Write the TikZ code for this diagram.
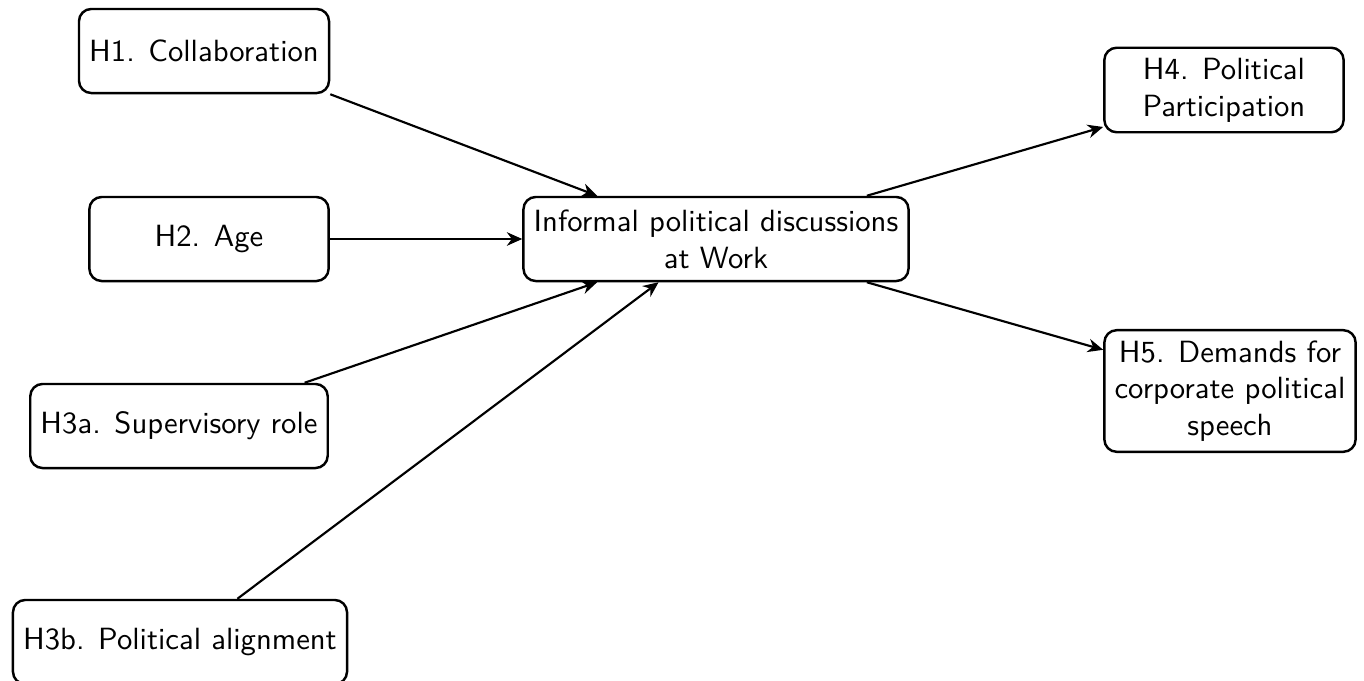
\documentclass[tikz,border=0pt]{standalone}
\usepackage{tikz}
\usetikzlibrary{arrows.meta}
\begin{document}
\begin{tikzpicture}[x=0.326pt,y=-0.326pt,
        hyp/.style={draw, rounded corners, line width=0.8pt, align=center,
            minimum width=78pt, minimum height=27.4pt, font=\sffamily},
        link/.style={line width=0.7pt, -{Stealth[length=5pt,width=4.4pt,inset=1.6pt]}}]
        \useasboundingbox (0,0) rectangle (1364,681);
        \node[hyp] (collab) at (204,51) {H1. Collaboration};
        \node[hyp] (age) at (209,239) {H2. Age};
        \node[hyp] (superv) at (179,426) {H3a. Supervisory role};
        \node[hyp] (align) at (180,642) {H3b. Political alignment};
        \node[hyp] (talk) at (716,239) {Informal political discussions\\at Work};
        \node[hyp] (partic) at (1224,90) {H4. Political\\Participation};
        \node[hyp] (speech) at (1230,391) {H5. Demands for\\corporate political\\speech};
        \draw[link] (collab.south east) -- (talk.160);
        \draw[link] (age) -- (talk);
        \draw[link] (superv.19) -- (talk.200);
        \draw[link] (align.37) -- (talk.217);
        \draw[link] (talk.16) -- (partic.197);
        \draw[link] (talk.-16) -- (speech.162);
    \end{tikzpicture}
\end{document}
